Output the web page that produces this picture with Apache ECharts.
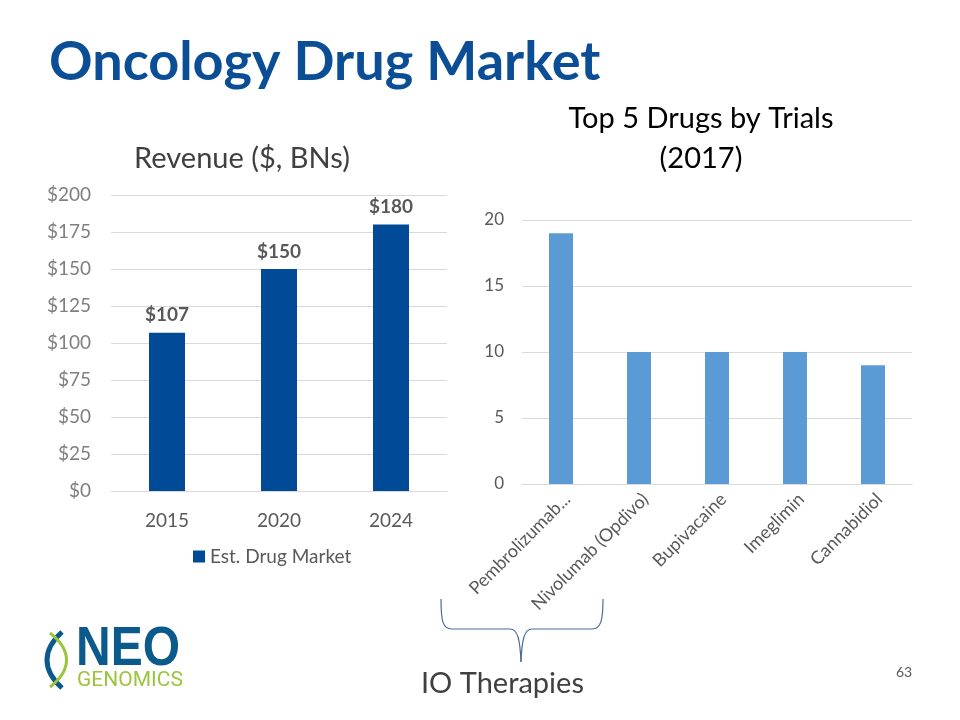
<!DOCTYPE html>
<html>
<head>
<meta charset="utf-8">
<script src="https://cdn.jsdelivr.net/npm/echarts@6/dist/echarts.min.js"></script>
<style>
html,body{margin:0;padding:0;background:#fff;}
#chart{width:960px;height:720px;}
</style>
</head>
<body>
<div id="chart"></div>
<script>
// Left chart data
const revenueYears = ['2015', '2020', '2024'];
const revenueValues = [107, 150, 180];
const revenueTicks = [0, 25, 50, 75, 100, 125, 150, 175, 200];
// Right chart data
const drugNames = ['Pembrolizumab...', 'Nivolumab (Opdivo)', 'Bupivacaine', 'Imeglimin', 'Cannabidiol'];
const drugTrials = [19, 10, 10, 10, 9];
const trialTicks = [0, 5, 10, 15, 20];

const FONT = 'Lato, "Open Sans", sans-serif';
const chart = echarts.init(document.getElementById('chart'));

const braceStyle = { fill: 'none', stroke: '#4A6E9A', lineWidth: 1.2 };
function bez(x1, y1, cpx1, cpy1, cpx2, cpy2, x2, y2, style) {
  return { type: 'bezierCurve', shape: { x1, y1, cpx1, cpy1, cpx2, cpy2, x2, y2 }, style };
}
function seg(x1, y1, x2, y2, style) {
  return { type: 'line', shape: { x1, y1, x2, y2 }, style };
}

chart.setOption({
  backgroundColor: '#ffffff',
  animation: false,
  textStyle: { fontFamily: FONT },
  title: [
    { text: 'Revenue ($, BNs)', left: 237, top: 139, textAlign: 'center',
      textStyle: { fontFamily: FONT, fontSize: 29, fontWeight: 'normal', color: '#404040' } },
    { text: 'Top 5 Drugs by Trials\n(2017)', left: 696, top: 94, textAlign: 'center',
      textStyle: { fontFamily: FONT, fontSize: 29, fontWeight: 'normal', color: '#000000', lineHeight: 40 } }
  ],
  legend: {
    data: ['Est. Drug Market'],
    left: 188, top: 542,
    itemWidth: 12, itemHeight: 12, itemGap: 6,
    icon: 'rect',
    textStyle: { fontFamily: FONT, fontSize: 19, color: '#595959' }
  },
  grid: [
    { left: 111, top: 195, width: 336, height: 296 },
    { left: 522, top: 220, width: 390, height: 264 }
  ],
  xAxis: [
    { type: 'category', gridIndex: 0, data: revenueYears,
      axisLine: { show: true, lineStyle: { color: '#D9D9D9' } }, axisTick: { show: false },
      axisLabel: { fontFamily: FONT, fontSize: 19, color: '#595959', margin: 20 } },
    { type: 'category', gridIndex: 1, data: drugNames,
      axisLine: { show: true, lineStyle: { color: '#D9D9D9' } }, axisTick: { show: false },
      axisLabel: { fontFamily: FONT, fontSize: 18, color: '#595959', rotate: 45, margin: 6,
        verticalAlign: 'top', interval: 0 } }
  ],
  yAxis: [
    { type: 'value', gridIndex: 0, min: revenueTicks[0], max: revenueTicks[revenueTicks.length - 1], interval: 25,
      axisLine: { show: false }, axisTick: { show: false },
      splitLine: { lineStyle: { color: '#D9D9D9' } },
      axisLabel: { fontFamily: FONT, fontSize: 19, color: '#7F7F7F', margin: 20, formatter: v => '$' + v } },
    { type: 'value', gridIndex: 1, min: trialTicks[0], max: trialTicks[trialTicks.length - 1], interval: 5,
      axisLine: { show: false }, axisTick: { show: false },
      splitLine: { lineStyle: { color: '#D9D9D9' } },
      axisLabel: { fontFamily: FONT, fontSize: 17, color: '#595959', margin: 18 } }
  ],
  series: [
    { name: 'Est. Drug Market', type: 'bar', xAxisIndex: 0, yAxisIndex: 0, data: revenueValues,
      barWidth: 36, itemStyle: { color: '#004A97' },
      label: { show: true, position: 'top', distance: 8, formatter: p => '$' + p.value,
        fontFamily: FONT, fontSize: 19, fontWeight: 'bold', color: '#595959' } },
    { name: 'Trials', type: 'bar', xAxisIndex: 1, yAxisIndex: 1, data: drugTrials,
      barWidth: 24, itemStyle: { color: '#5B9BD5' } }
  ],
  graphic: [
    { type: 'text', left: 49, top: 36,
      style: { text: 'Oncology Drug Market', fontFamily: FONT, fontSize: 54, fontWeight: 'bold', fill: '#0B4E96' } },
    bez(441, 599, 441, 622, 443, 629, 452, 629, braceStyle),
    seg(452, 629, 510, 629, braceStyle),
    bez(510, 629, 518, 629, 520, 640, 521, 662, braceStyle),
    bez(521, 662, 522, 640, 524, 629, 532, 629, braceStyle),
    seg(532, 629, 592, 629, braceStyle),
    bez(592, 629, 601, 629, 603, 620, 603, 599, braceStyle),
    { type: 'text', left: 421, top: 669,
      style: { text: 'IO Therapies', fontFamily: FONT, fontSize: 29, fill: '#404040' } },
    { type: 'text', left: 896, top: 665,
      style: { text: '63', fontFamily: FONT, fontSize: 14, fill: '#595959' } },
    // logo
    bez(62, 632, 42, 650, 42, 670, 62, 688, { fill: 'none', stroke: '#0A5A8C', lineWidth: 5 }),
    bez(50, 633, 72, 650, 72, 670, 50, 687, { fill: 'none', stroke: '#9BC53D', lineWidth: 3 }),
    { type: 'text', x: 76, y: 623, scaleY: 1.14,
      style: { text: 'NEO', fontFamily: '"Liberation Sans", Arial, sans-serif', fontSize: 48, fontWeight: 'bold', fill: '#0A5A8C', textVerticalAlign: 'top' } },
    { type: 'text', left: 77, top: 670,
      style: { text: 'GENOMICS', fontFamily: '"Liberation Sans Narrow", "Roboto", sans-serif', fontSize: 21, fill: '#9BC53D' } }
  ]
});
</script>
</body>
</html>
